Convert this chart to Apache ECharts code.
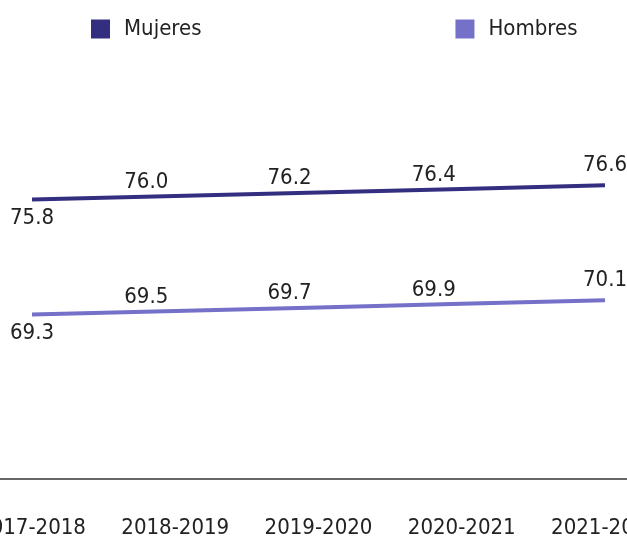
<!DOCTYPE html>
<html>
<head>
<meta charset="utf-8">
<script src="https://cdn.jsdelivr.net/npm/echarts@6/dist/echarts.min.js"></script>
<style>
  html, body { margin: 0; padding: 0; background: #fff; }
  #main { width: 627px; height: 539px; }
</style>
</head>
<body>
<div id="main"></div>
<script>
// datos
var periodos = ['2017-2018', '2018-2019', '2019-2020', '2020-2021', '2021-2022'];
var mujeres = [75.8, 76.0, 76.2, 76.4, 76.6];
var hombres = [69.3, 69.5, 69.7, 69.9, 70.1];

var FONT = "'DejaVu Sans Condensed', 'Liberation Sans Narrow', sans-serif";

// posicion de cada etiqueta (primera abajo, el resto arriba)
var labelPos = ['bottom', 'top', 'top', 'top', 'top'];
var labelOff = [[0, 5], [-29, 0], [-29, 0], [-28, 0], [0, -6]];

function buildData(vals) {
  return vals.map(function (v, i) {
    return {
      value: v,
      label: { position: labelPos[i], offset: labelOff[i] }
    };
  });
}

var chart = echarts.init(document.getElementById('main'));

var option = {
  animation: false,
  legend: {
    left: 91,
    top: 18,
    padding: 0,
    itemWidth: 19,
    itemHeight: 19,
    itemGap: 254,
    icon: 'rect',
    textStyle: {
      fontFamily: FONT,
      fontSize: 22,
      color: '#222',
      padding: [0, 0, 0, 9]
    },
    data: ['Mujeres', 'Hombres']
  },
  grid: {
    left: -39.6,
    right: -49.6,
    top: 125.2,
    bottom: 60,
    containLabel: false,
    outerBoundsMode: 'none'
  },
  xAxis: {
    type: 'category',
    boundaryGap: true,
    data: periodos,
    axisLine: { lineStyle: { color: '#333', width: 1.5 } },
    axisTick: { show: false },
    axisLabel: {
      fontFamily: FONT,
      fontSize: 22,
      color: '#222',
      margin: 38
    }
  },
  yAxis: {
    type: 'value',
    min: 60,
    max: 80,
    show: false,
    splitLine: { show: false }
  },
  series: [
    {
      name: 'Mujeres',
      type: 'line',
      data: buildData(mujeres),
      symbol: 'circle',
      symbolSize: 0,
      showSymbol: true,
      color: '#332e80',
      lineStyle: { width: 4, color: '#332e80' },
      label: {
        show: true,
        distance: 3,
        fontFamily: FONT,
        fontSize: 22,
        color: '#222',
        formatter: function (p) { return p.value.toFixed(1); }
      }
    },
    {
      name: 'Hombres',
      type: 'line',
      data: buildData(hombres),
      symbol: 'circle',
      symbolSize: 0,
      showSymbol: true,
      color: '#7570c8',
      lineStyle: { width: 4, color: '#7570c8' },
      label: {
        show: true,
        distance: 3,
        fontFamily: FONT,
        fontSize: 22,
        color: '#222',
        formatter: function (p) { return p.value.toFixed(1); }
      }
    }
  ]
};

chart.setOption(option);
</script>
</body>
</html>
